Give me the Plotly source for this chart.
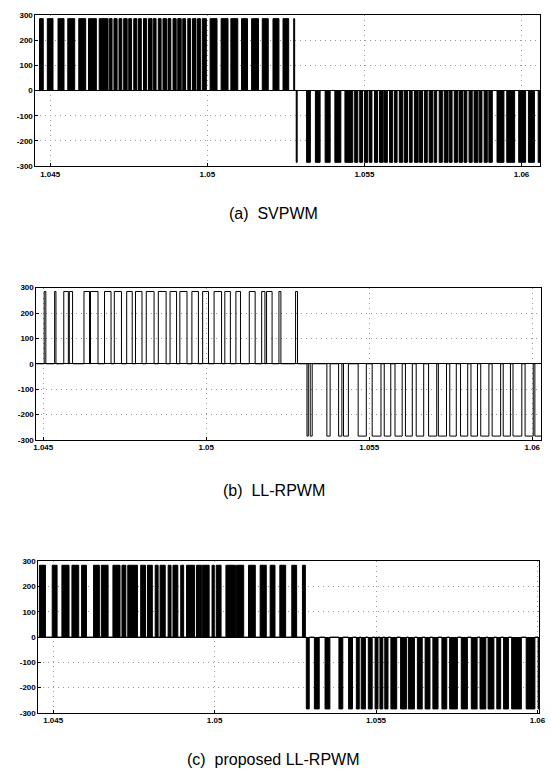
import plotly.graph_objects as go

# ---------------- data (pulse edges, in ms) ----------------
LEVEL = 285.0  # pulse amplitude (V)

# (a) SVPWM
a_pos_on = [1044.66, 1044.91, 1045.25, 1045.56, 1045.91, 1046.22, 1046.56,
            1046.88, 1047.03, 1047.19, 1047.34, 1047.50, 1047.66, 1047.81, 1047.97,
            1048.13, 1048.28, 1048.44, 1048.59, 1048.75, 1048.91, 1049.06, 1049.22,
            1049.38, 1049.53, 1049.69, 1049.84,
            1050.09, 1050.44, 1050.75, 1051.09, 1051.41, 1051.75, 1052.09, 1052.41, 1052.75]
a_pos_off = [1044.78, 1045.09, 1045.44, 1045.78, 1046.13, 1046.47, 1046.84,
             1046.97, 1047.13, 1047.28, 1047.45, 1047.59, 1047.76, 1047.90, 1048.07,
             1048.24, 1048.37, 1048.53, 1048.70, 1048.84, 1049.01, 1049.17, 1049.31,
             1049.47, 1049.64, 1049.78, 1049.97,
             1050.31, 1050.66, 1050.97, 1051.28, 1051.63, 1051.94, 1052.28, 1052.59, 1052.78]
a_neg_on = [1052.83, 1053.16, 1053.44, 1053.75, 1054.06, 1054.38,
            1054.69, 1054.85, 1055.00, 1055.16, 1055.32, 1055.48, 1055.64, 1055.80,
            1055.96, 1056.11, 1056.27, 1056.43, 1056.59, 1056.75, 1056.91, 1057.06,
            1057.22, 1057.38, 1057.54, 1057.70, 1057.86, 1058.01, 1058.17, 1058.33,
            1058.49, 1058.65, 1058.81, 1058.96,
            1059.22, 1059.53, 1059.91, 1060.22, 1060.53]
a_neg_off = [1052.86, 1053.28, 1053.59, 1053.91, 1054.25, 1054.63,
             1054.79, 1054.94, 1055.11, 1055.24, 1055.42, 1055.60, 1055.73, 1055.90,
             1056.04, 1056.22, 1056.37, 1056.52, 1056.71, 1056.85, 1057.00, 1057.17,
             1057.30, 1057.48, 1057.66, 1057.79, 1057.96, 1058.12, 1058.26, 1058.43,
             1058.61, 1058.74, 1058.91, 1059.07,
             1059.44, 1059.78, 1060.13, 1060.41, 1060.70]

# (b) LL-RPWM
b_pos_on = [1045.03, 1045.35, 1045.63, 1045.80, 1046.25, 1046.45, 1046.88, 1047.18,
            1047.56, 1047.83, 1048.16, 1048.53, 1048.89, 1049.19, 1049.56, 1049.89,
            1050.24, 1050.57, 1050.91, 1051.32, 1051.70, 1051.85, 1052.23, 1052.74]
b_pos_off = [1045.08, 1045.39, 1045.77, 1045.90, 1046.42, 1046.68, 1047.08, 1047.40,
             1047.73, 1048.03, 1048.40, 1048.77, 1049.09, 1049.41, 1049.76, 1050.07,
             1050.47, 1050.74, 1051.05, 1051.50, 1051.80, 1052.02, 1052.29, 1052.80]
b_neg_on = [1053.09, 1053.19, 1053.70, 1054.06, 1054.21, 1054.66, 1055.09, 1055.46,
            1055.79, 1056.11, 1056.44, 1056.82, 1057.12, 1057.47, 1057.80, 1058.12,
            1058.42, 1058.77, 1059.11, 1059.41, 1059.78, 1060.08]
b_neg_off = [1053.13, 1053.25, 1053.80, 1054.16, 1054.36, 1054.91, 1055.36, 1055.66,
             1056.01, 1056.32, 1056.67, 1057.07, 1057.37, 1057.67, 1058.02, 1058.32,
             1058.67, 1059.03, 1059.33, 1059.68, 1060.03, 1060.30]

# (c) proposed LL-RPWM
c_pos_on = [1044.57, 1044.97, 1045.27, 1045.58, 1045.88, 1046.25, 1046.49, 1046.85,
            1047.13, 1047.31, 1047.71, 1047.92, 1048.16, 1048.31, 1048.56, 1048.71,
            1048.95, 1049.13, 1049.44, 1049.62, 1049.92, 1050.05, 1050.35, 1050.68,
            1051.05, 1051.41, 1051.72, 1052.02, 1052.39, 1052.72]
c_pos_off = [1044.76, 1045.12, 1045.49, 1045.79, 1046.03, 1046.43, 1046.70, 1047.07,
             1047.25, 1047.61, 1047.86, 1048.07, 1048.25, 1048.47, 1048.65, 1048.86,
             1049.04, 1049.38, 1049.59, 1049.83, 1049.99, 1050.20, 1050.65, 1050.90,
             1051.26, 1051.60, 1051.87, 1052.20, 1052.54, 1052.81]
c_neg_on = [1052.84, 1053.09, 1053.42, 1053.85, 1054.15, 1054.39, 1054.54, 1054.76,
            1054.97, 1055.12, 1055.27, 1055.46, 1055.76, 1056.00, 1056.28, 1056.52,
            1056.76, 1057.04, 1057.28, 1057.64, 1057.95, 1058.22, 1058.47, 1058.74,
            1058.95, 1059.20, 1059.65, 1060.02]
c_neg_off = [1052.93, 1053.24, 1053.57, 1053.97, 1054.27, 1054.48, 1054.67, 1054.88,
             1055.06, 1055.21, 1055.37, 1055.64, 1055.94, 1056.19, 1056.43, 1056.67,
             1056.92, 1057.19, 1057.52, 1057.83, 1058.13, 1058.40, 1058.65, 1058.86,
             1059.10, 1059.50, 1059.92, 1060.17]

x_tickvals = [1.045, 1.05, 1.055, 1.06]
x_ticktext = ["1.045", "1.05", "1.055", "1.06"]
y_tickvals = [300, 200, 100, 0, -100, -200, -300]
y_ticktext = ["300", "200", "100", "0", "-100", "-200", "-300"]
captions = ["(a)  SVPWM", "(b)  LL-RPWM", "(c)  proposed LL-RPWM"]

# ---------------- layout geometry ----------------
W, H = 551, 778
panels = [
    dict(x0=33, x1=547, top=11, bottom=164, xr=(1.04453, 1.06059), fill=True,
         cap_y=212,
         data=(a_pos_on, a_pos_off, a_neg_on, a_neg_off)),
    dict(x0=34, x1=548, top=287, bottom=441, xr=(1.04479, 1.06027), fill=False,
         cap_y=492,
         data=(b_pos_on, b_pos_off, b_neg_on, b_neg_off)),
    dict(x0=36, x1=546, top=564, bottom=717, xr=(1.04454, 1.06005), fill=True,
         cap_y=764,
         data=(c_pos_on, c_pos_off, c_neg_on, c_neg_off)),
]


def step_series(pos_on, pos_off, neg_on, neg_off, xr):
    edges = [(a / 1000.0, b / 1000.0, LEVEL) for a, b in zip(pos_on, pos_off)]
    edges += [(a / 1000.0, b / 1000.0, -LEVEL) for a, b in zip(neg_on, neg_off)]
    edges.sort()
    xs, ys = [xr[0] - 0.0002], [0.0]
    for a, b, lv in edges:
        xs += [a, a, b, b]
        ys += [0.0, lv, lv, 0.0]
    xs.append(xr[1] + 0.0002)
    ys.append(0.0)
    return xs, ys


fig = go.Figure()
annotations = []
for i, p in enumerate(panels, start=1):
    xs, ys = step_series(*p["data"], p["xr"])
    xa = "x" if i == 1 else f"x{i}"
    ya = "y" if i == 1 else f"y{i}"
    fig.add_trace(go.Scatter(
        x=xs, y=ys, mode="lines", xaxis=xa, yaxis=ya,
        line=dict(color="black", width=1),
        fill="tozeroy" if p["fill"] else None,
        fillcolor="black",
        hoverinfo="skip", showlegend=False,
    ))
    axis_common = dict(
        showline=True, linecolor="black", linewidth=1, mirror=True,
        showgrid=True, gridcolor="#9a9a9a", griddash="1px,4px", gridwidth=1,
        ticks="inside", ticklen=3, tickcolor="black",
        tickfont=dict(family="Liberation Sans, Arial, sans-serif", size=8,
                      color="black", weight="bold"),
    )
    fig.layout[f"xaxis{'' if i == 1 else i}"] = dict(
        axis_common,
        domain=[p["x0"] / W, p["x1"] / W],
        range=list(p["xr"]), anchor=ya,
        tickvals=x_tickvals, ticktext=x_ticktext, zeroline=False,
        ticklabeloverflow="allow",
    )
    fig.layout[f"yaxis{'' if i == 1 else i}"] = dict(
        axis_common,
        domain=[1 - p["bottom"] / H, 1 - p["top"] / H],
        range=[-300, 300], anchor=xa,
        tickvals=y_tickvals, ticktext=y_ticktext,
        zeroline=True, zerolinecolor="black", zerolinewidth=1,
    )
    annotations.append(dict(
        text=captions[i - 1], xref="paper", yref="paper",
        x=0.5, y=1 - p["cap_y"] / H, xanchor="center", yanchor="middle",
        showarrow=False,
        font=dict(family="Liberation Sans, Arial, sans-serif", size=16, color="black"),
    ))

fig.update_layout(
    width=W, height=H, margin=dict(l=0, r=0, t=0, b=0),
    paper_bgcolor="white", plot_bgcolor="white",
    annotations=annotations, showlegend=False,
)

fig.write_html("out.html")
